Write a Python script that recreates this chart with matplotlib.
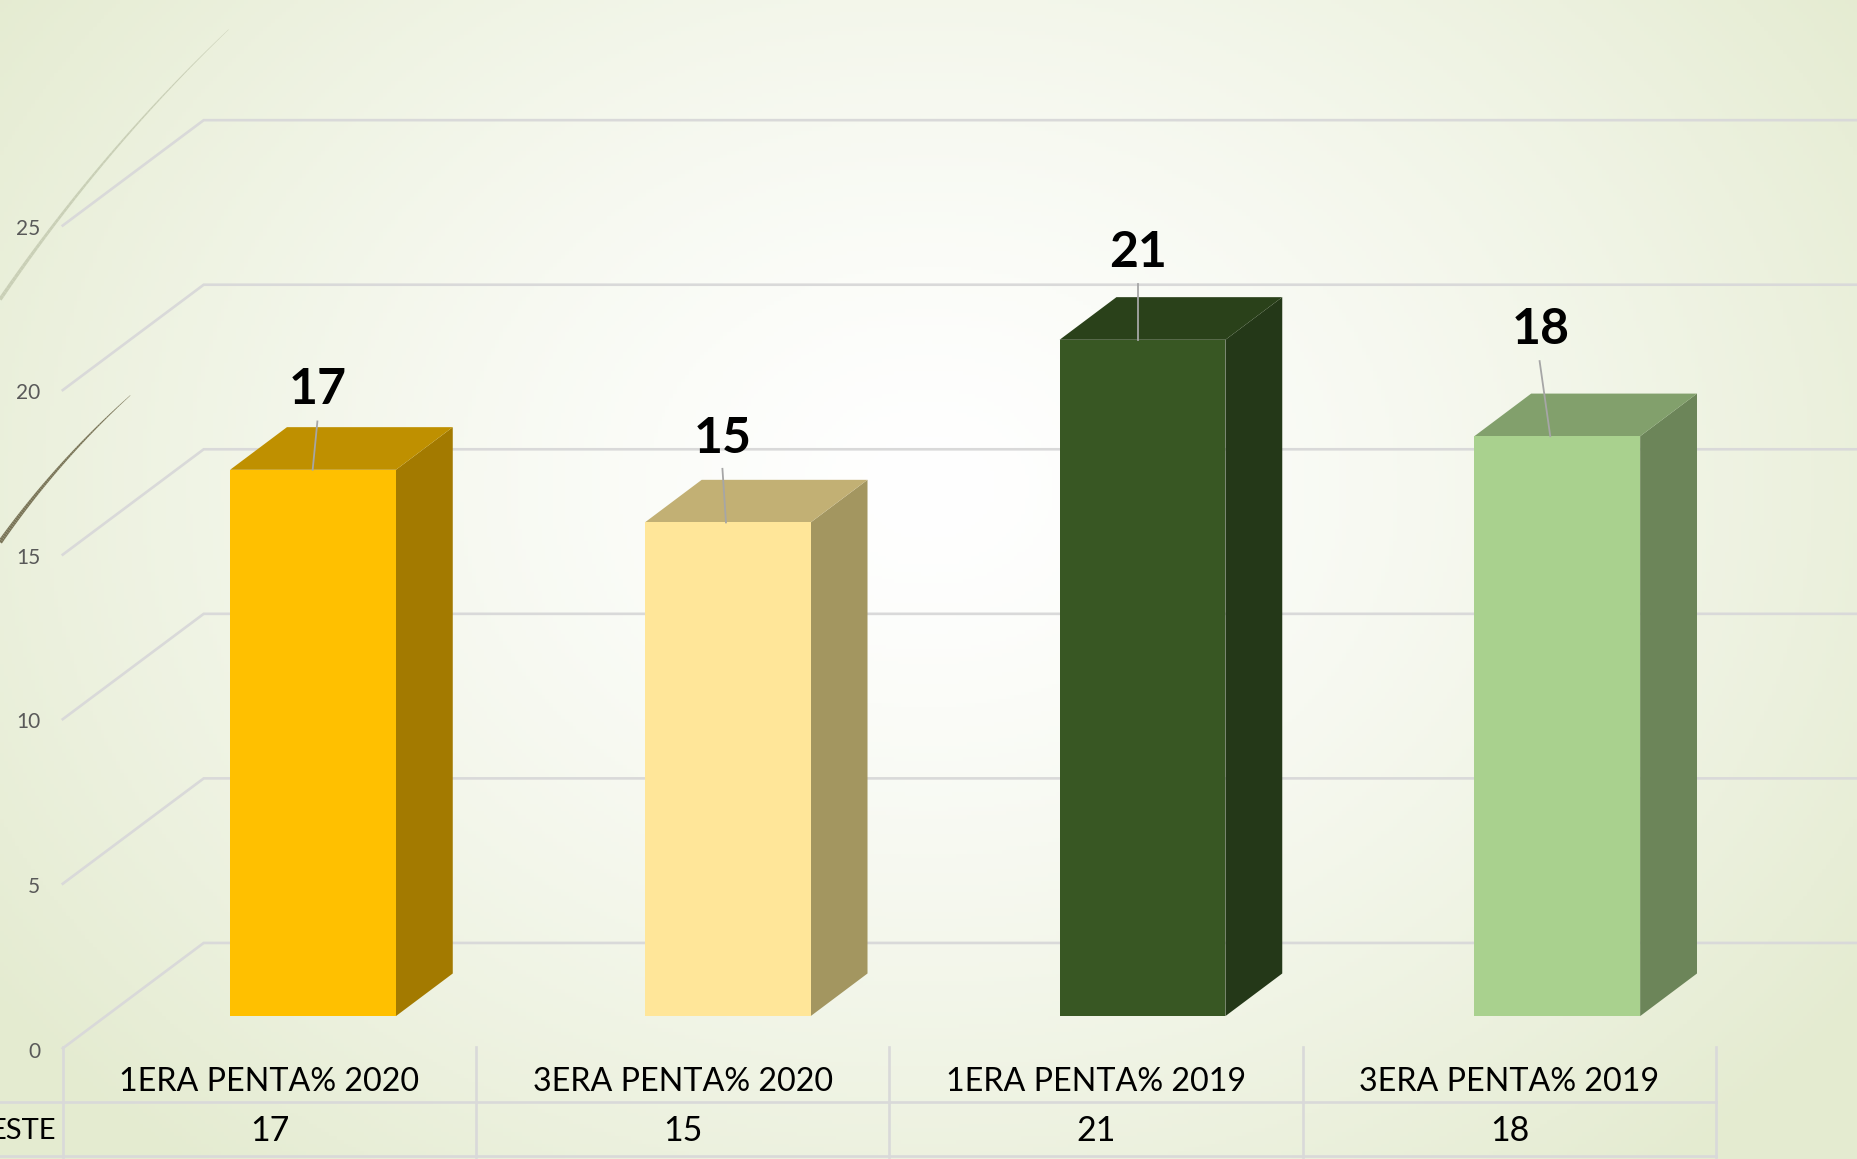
import numpy as np
import matplotlib.pyplot as plt
from matplotlib.collections import LineCollection
from matplotlib.patches import Polygon

plt.rcParams['font.family'] = ['Lato', 'DejaVu Sans']

# data
categories = ['1ERA PENTA% 2020', '3ERA PENTA% 2020', '1ERA PENTA% 2019', '3ERA PENTA% 2019']
shown_values = [17, 15, 21, 18]
bar_heights = [16.6, 15.0, 20.55, 17.62]
y_ticks = [0, 5, 10, 15, 20, 25]
row_name = 'ESTE'

front_colors = ['#FFC000', '#FFE699', '#385723', '#A9D18E']
side_colors = ['#A37A00', '#A39660', '#243818', '#6C8559']
top_colors = ['#BF9000', '#C2B074', '#2A411A', '#82A06C']

# layout, measured on the 1568 wide view of the reference
W, H = 1568, 979
cat_step = 350.2
unit = 27.8
x0, y0 = 264.3, 858.3


def xd(px):
    return (px - x0) / cat_step


def yd(py):
    return (y0 - py) / unit


bar_w = 140 / cat_step
depth_x = 48 / cat_step
depth_y = 36 / unit
wall_front = (53, 885.5)
wall_back = (172, 796.5)

label_px = [(268, 329), (610, 370), (961, 213), (1301, 278)]
leader_px = [(268, 356), (610, 396), (961, 240), (1300, 305)]
leader_end_x = [264, 613, 961, 1309]

grid_c = '#D9D9D9'
fig = plt.figure(figsize=(18.57, 11.59), dpi=100)

# background glow
bg = fig.add_axes([0, 0, 1, 1], zorder=0)
yy, xx = np.mgrid[0:1:300j, 0:1:480j]
r = np.sqrt(((xx - 0.5) / 0.62) ** 2 + ((yy - 0.42) / 0.78) ** 2)
t = np.clip(r, 0, 1)[..., None] ** 1.35
inner = np.array([255, 255, 255]) / 255
outer = np.array([228, 235, 208]) / 255
bg.imshow(inner * (1 - t) + outer * t, aspect='auto', extent=[0, 1, 1, 0])
bg.axis('off')

ax = fig.add_axes([0, 0, 1, 1], zorder=1)
ax.patch.set_alpha(0)
ax.set_xlim(xd(0), xd(W))
ax.set_ylim(yd(H), yd(0))
ax.axis('off')

# wall gridlines and axis numbers
fx, fy = xd(wall_front[0]), yd(wall_front[1])
bx, by = xd(wall_back[0]), yd(wall_back[1])
for v in y_ticks:
    ax.text(xd(34), fy + v - 0.1, str(v), ha='right', va='center', fontsize=15, color='#595959')
    ax.plot([fx, bx, xd(W)], [fy + v, by + v, by + v], color=grid_c, lw=1.9, zorder=1,
            solid_joinstyle='miter')

# 3d bars
for i, h in enumerate(bar_heights):
    l, r_ = i - bar_w / 2, i + bar_w / 2
    ax.add_patch(Polygon([(r_, 0), (r_ + depth_x, depth_y), (r_ + depth_x, h + depth_y), (r_, h)],
                         fc=side_colors[i], ec='none', zorder=3))
    ax.add_patch(Polygon([(l, h), (l + depth_x, h + depth_y), (r_ + depth_x, h + depth_y), (r_, h)],
                         fc=top_colors[i], ec='none', zorder=3))
    ax.bar(i, h, width=bar_w, color=front_colors[i], zorder=4)

    ax.plot([xd(leader_px[i][0]), xd(leader_end_x[i])], [yd(leader_px[i][1]), h],
            color='#A6A6A6', lw=1.3, zorder=5)
    ax.text(xd(label_px[i][0]), yd(label_px[i][1]), str(shown_values[i]), ha='center', va='center',
            fontsize=36, fontweight='bold', color='black', zorder=6)

# data table under the chart
table_x = [53, 402, 751, 1100, 1449]
for px in table_x:
    ax.plot([xd(px), xd(px)], [yd(884), yd(977)], color=grid_c, lw=1.9, zorder=2)
ax.plot([xd(0), xd(1449)], [yd(930.5), yd(930.5)], color=grid_c, lw=1.9, zorder=2)
ax.plot([xd(0), xd(1449)], [yd(976.5), yd(976.5)], color=grid_c, lw=1.9, zorder=2)
for i, name in enumerate(categories):
    cx = xd((table_x[i] + table_x[i + 1]) / 2)
    ax.text(cx, yd(914), name, ha='center', va='center', fontsize=23.2, color='black')
    ax.text(cx, yd(955), str(shown_values[i]), ha='center', va='center', fontsize=24.5, color='black')
ax.text(xd(47), yd(955), row_name, ha='right', va='center', fontsize=21, color='black')


# grass strokes at the top left
def stroke(p0, p1, p2, color, w0):
    s = np.linspace(0, 1, 80)[..., None]
    pts = (1 - s) ** 2 * np.array(p0) + 2 * s * (1 - s) * np.array(p1) + s ** 2 * np.array(p2)
    pts = np.column_stack([xd(pts[:, 0]), yd(pts[:, 1])])
    segs = np.stack([pts[:-1], pts[1:]], axis=1)
    ax.add_collection(LineCollection(segs, colors=color, linewidths=w0 * (1 - s[:-1, 0]) + 0.25, zorder=2))


stroke((0, 253), (85, 128), (193, 25), '#C9CFB6', 2.4)
stroke((0, 458), (48, 390), (110, 334), '#7A7558', 3.0)

fig.savefig('out.png', dpi=100)
